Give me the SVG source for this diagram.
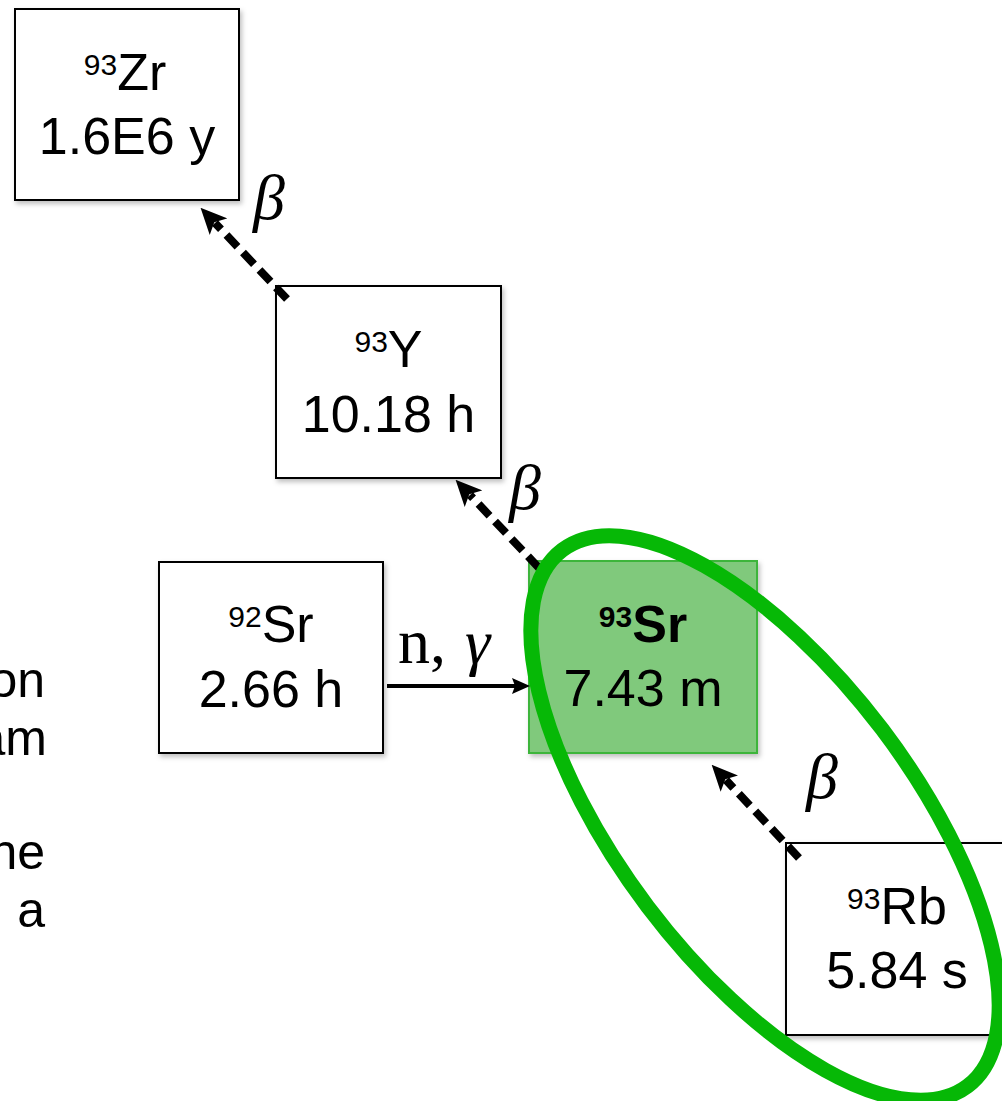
<svg xmlns="http://www.w3.org/2000/svg" width="1002" height="1101" viewBox="0 0 1002 1101">
<defs>
<style>
.box{fill:#fff;stroke:#000;stroke-width:2}
.hl{fill:#80C97C;stroke:#3DB53A;stroke-width:2}
.t{font-family:"Liberation Sans",Arial,sans-serif;font-size:52px;fill:#000;text-anchor:middle}
.sup{font-size:30px}
.b{font-weight:bold}
.m{font-family:"Liberation Serif","Times New Roman",serif;font-size:64px;fill:#000}
.i{font-style:italic}
.side{font-family:"Liberation Sans",Arial,sans-serif;font-size:50px;fill:#000;text-anchor:end}
.dash{fill:none;stroke:#000;stroke-width:8;stroke-dasharray:16 8}
.solid{fill:none;stroke:#000;stroke-width:4}
</style>
<filter id="sh" x="-10%" y="-10%" width="125%" height="125%">
<feDropShadow dx="2" dy="3" stdDeviation="2.5" flood-color="#000" flood-opacity="0.25"/>
</filter>
<marker id="ah" viewBox="0 0 26 24" refX="5" refY="12" markerWidth="26" markerHeight="24" markerUnits="userSpaceOnUse" orient="auto">
<path d="M0,0 L26,12 L0,24 L6,12 z" fill="#000"/>
</marker>
<marker id="ahs" viewBox="0 0 18 16" refX="3" refY="8" markerWidth="18" markerHeight="16" markerUnits="userSpaceOnUse" orient="auto">
<path d="M0,0 L18,8 L0,16 L3,8 z" fill="#000"/>
</marker>
</defs>
<rect width="1002" height="1101" fill="#fff"/>

<g id="side-text">
<text class="side" x="45" y="697">on</text>
<text class="side" x="47" y="755">am</text>
<text class="side" x="45" y="869">ne</text>
<text class="side" x="45" y="927">a</text>
</g>

<g id="zr93">
<rect class="box" x="15" y="9" width="224" height="191" filter="url(#sh)"/>
<text class="t" x="125" y="90"><tspan class="sup" dy="-15">93</tspan><tspan dy="15">Zr</tspan></text>
<text class="t" x="127" y="154">1.6E6 y</text>
</g>

<g id="y93">
<rect class="box" x="276" y="286" width="225" height="192" filter="url(#sh)"/>
<text class="t" x="388.5" y="367"><tspan class="sup" dy="-15">93</tspan><tspan dy="15">Y</tspan></text>
<text class="t" x="388.5" y="431.5">10.18 h</text>
</g>

<g id="sr92">
<rect class="box" x="159" y="562" width="224" height="191" filter="url(#sh)"/>
<text class="t" x="271" y="642"><tspan class="sup" dy="-15">92</tspan><tspan dy="15">Sr</tspan></text>
<text class="t" x="271" y="707">2.66 h</text>
</g>

<g id="sr93">
<rect class="hl" x="529" y="561" width="228" height="192" filter="url(#sh)"/>
<text class="t b" x="643" y="642"><tspan class="sup" dy="-15">93</tspan><tspan dy="15">Sr</tspan></text>
<text class="t" x="643" y="706">7.43 m</text>
</g>

<g id="rb93">
<rect class="box" x="786" y="843" width="226" height="192" filter="url(#sh)"/>
<text class="t" x="897" y="924"><tspan class="sup" dy="-15">93</tspan><tspan dy="15">Rb</tspan></text>
<text class="t" x="897" y="988">5.84 s</text>
</g>

<g id="connectors">
<line class="dash" x1="287" y1="299" x2="215" y2="223" marker-end="url(#ah)"/>
<line class="dash" x1="539" y1="568" x2="470" y2="495" marker-end="url(#ah)"/>
<line class="dash" x1="799" y1="858" x2="726" y2="780" marker-end="url(#ah)"/>
<line class="solid" x1="387" y1="686" x2="515" y2="686" marker-end="url(#ahs)"/>
<text class="m" x="253" y="219"><tspan class="i">β</tspan></text>
<text class="m" x="509" y="509"><tspan class="i">β</tspan></text>
<text class="m" x="806" y="798"><tspan class="i">β</tspan></text>
<text class="m" x="398" y="663">n,</text>
<text class="m i" x="465" y="663">γ</text>
</g>

<g id="highlight">
<ellipse cx="765" cy="818" rx="336" ry="147" transform="rotate(52.9 765 818)" fill="none" stroke="#06B806" stroke-width="15"/>
</g>
</svg>
